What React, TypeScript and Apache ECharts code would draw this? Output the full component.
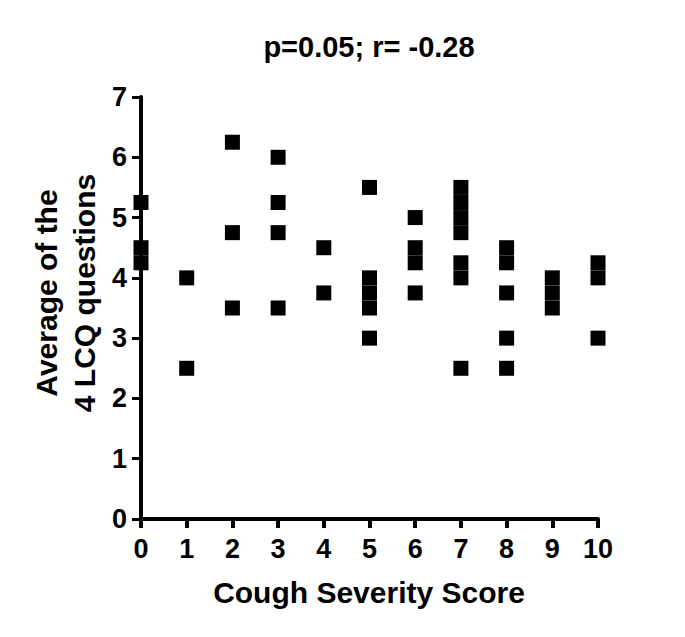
import React, { useEffect, useRef } from "react";
import * as echarts from "echarts";

const titleText = "p=0.05; r= -0.28";
const xAxisTitle = "Cough Severity Score";
const yAxisTitleLines = ["Average of the", "4 LCQ questions"];
const xTicks = [0, 1, 2, 3, 4, 5, 6, 7, 8, 9, 10];
const yTicks = [0, 1, 2, 3, 4, 5, 6, 7];

// Cough severity score for each subject
const coughScore = [
  0, 0, 0,
  1, 1,
  2, 2, 2,
  3, 3, 3, 3,
  4, 4,
  5, 5, 5, 5, 5,
  6, 6, 6, 6,
  7, 7, 7, 7, 7, 7, 7,
  8, 8, 8, 8, 8,
  9, 9, 9,
  10, 10, 10,
];
// Average of the 4 LCQ questions for each subject
const lcqAverage = [
  5.25, 4.5, 4.25,
  4.0, 2.5,
  6.25, 4.75, 3.5,
  6.0, 5.25, 4.75, 3.5,
  4.5, 3.75,
  5.5, 4.0, 3.75, 3.5, 3.0,
  5.0, 4.5, 4.25, 3.75,
  5.5, 5.25, 5.0, 4.75, 4.25, 4.0, 2.5,
  4.5, 4.25, 3.75, 3.0, 2.5,
  4.0, 3.75, 3.5,
  4.25, 4.0, 3.0,
];

const FONT = "'Liberation Sans', Arial, sans-serif";

export default function App() {
  const ref = useRef<HTMLDivElement>(null);
  useEffect(() => {
    if (!ref.current) return;
    const chart = echarts.init(ref.current, undefined, { renderer: "svg" });
    const data = coughScore.map((x, i) => [x, lcqAverage[i]]);
    chart.setOption({
      animation: false,
      backgroundColor: "#ffffff",
      grid: { left: 141, right: 87, top: 97, bottom: 118, containLabel: false },
      graphic: [
        {
          type: "text",
          x: 369,
          y: 47,
          style: {
            text: titleText,
            font: `bold 29px ${FONT}`,
            fill: "#000",
            textAlign: "center",
            textVerticalAlign: "middle",
          },
        },
        {
          type: "text",
          x: 369,
          y: 592,
          style: {
            text: xAxisTitle,
            font: `bold 30px ${FONT}`,
            fill: "#000",
            textAlign: "center",
            textVerticalAlign: "middle",
          },
        },
        ...yAxisTitleLines.map((t, i) => ({
          type: "text",
          x: 46 + i * 38,
          y: 293,
          rotation: Math.PI / 2,
          style: {
            text: t,
            font: `bold 30px ${FONT}`,
            fill: "#000",
            textAlign: "center",
            textVerticalAlign: "middle",
          },
        })),
      ],
      xAxis: {
        type: "value",
        min: xTicks[0],
        max: xTicks[xTicks.length - 1],
        interval: 1,
        splitLine: { show: false },
        axisLine: { show: true, onZero: false, lineStyle: { color: "#000", width: 4 } },
        axisTick: { show: true, length: 9, lineStyle: { color: "#000", width: 4 } },
        axisLabel: {
          margin: 16,
          color: "#000",
          fontSize: 27,
          fontWeight: "bold",
          fontFamily: FONT,
        },
      },
      yAxis: {
        type: "value",
        min: yTicks[0],
        max: yTicks[yTicks.length - 1],
        interval: 1,
        splitLine: { show: false },
        axisLine: { show: true, onZero: false, lineStyle: { color: "#000", width: 4 } },
        axisTick: { show: true, length: 9, lineStyle: { color: "#000", width: 3 } },
        axisLabel: {
          margin: 14,
          color: "#000",
          fontSize: 27,
          fontWeight: "bold",
          fontFamily: FONT,
        },
      },
      series: [
        {
          type: "scatter",
          data,
          symbol: "rect",
          symbolSize: 15,
          itemStyle: { color: "#000", opacity: 1 },
          z: 5,
        },
      ],
    });
    return () => chart.dispose();
  }, []);
  return <div ref={ref} style={{ width: 685, height: 637, margin: -8 }} />;
}
